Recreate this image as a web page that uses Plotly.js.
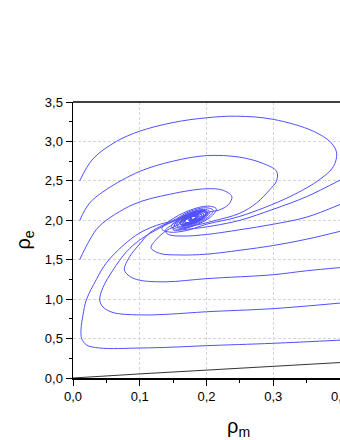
<!DOCTYPE html>
<html>
<head>
<meta charset="utf-8">
<script src="https://cdn.plot.ly/plotly-3.0.1.min.js"></script>
<style>html,body{margin:0;padding:0;background:#fff;}#chart{width:340px;height:440px;}</style>
</head>
<body>
<div id="chart"></div>
<script>
// Trajectories (rho_m, rho_e)
const trajA_x = [0.01,0.03,0.065,0.1,0.15,0.2,0.245,0.3,0.36,0.387,0.395,0.39,0.37,0.325,0.25,0.2,0.17,0.145,0.133,
  0.1451,0.1732,0.2019,0.2148,0.2059,0.182,0.1581,0.1476,0.1552,0.1747,0.1939,0.202,0.1957,0.1805,0.1661,0.1604,0.1653,0.1763,0.186,0.1892,0.1856,0.179,0.174,0.1732,0.1755,0.178];
const trajA_y = [2.5,2.78,3.0,3.13,3.24,3.3,3.32,3.28,3.13,2.98,2.85,2.68,2.52,2.3,2.05,1.95,1.87,1.85,1.89,
  1.994,2.121,2.18,2.144,2.04,1.933,1.885,1.916,2.002,2.088,2.127,2.1,2.032,1.966,1.938,1.959,2.009,2.056,2.073,2.057,2.025,1.999,1.992,2.003,2.016,2.02];

const trajB_x = [0.01,0.025,0.05,0.1,0.15,0.2,0.25,0.285,0.305,0.305,0.295,0.275,0.25,0.21,0.18,0.16,
  0.1555,0.1611,0.1756,0.1898,0.1958,0.1911,0.1798,0.1692,0.165,0.1686,0.1767,0.1839,0.1863,0.1836,0.1787,0.1751,0.1744,0.1765,0.178];
const trajB_y = [2.0,2.22,2.39,2.62,2.75,2.82,2.8,2.72,2.62,2.5,2.39,2.22,2.09,1.99,1.93,1.9,
  1.943,2.006,2.07,2.098,2.079,2.029,1.98,1.959,1.975,2.012,2.046,2.059,2.047,2.023,2.004,2.0,2.007,2.02,2.02];

const trajC_x = [0.01,0.025,0.04,0.09,0.145,0.2,0.225,0.238,0.233,0.219,
  0.2004,0.195,0.1805,0.1659,0.1595,0.1641,0.176,0.1877,0.1926,0.1888,0.1795,0.1707,0.1673,0.1703,0.177,0.1829,0.1848,0.1826,0.1786,0.1756,0.175,0.178];
const trajC_y = [1.5,1.75,1.93,2.2,2.33,2.4,2.38,2.3,2.2,2.13,
  2.095,2.032,1.967,1.937,1.956,2.009,2.061,2.084,2.069,2.027,1.987,1.97,1.983,2.013,2.041,2.052,2.042,2.022,2.007,2.003,2.009,2.02];

const trajR1_x = [0.4,0.35,0.3,0.25,0.21,0.175,0.15,
  0.1516,0.1582,0.1752,0.1919,0.1989,0.1934,0.1802,0.1676,0.1627,0.167,0.1765,0.1849,0.1877,0.1846,0.1788,0.1745,0.1738,0.1752,0.1777,0.178];
const trajR1_y = [2.51,2.3,2.14,2.0,1.93,1.89,1.88,
  1.929,2.004,2.079,2.112,2.09,2.031,1.973,1.949,1.967,2.011,2.051,2.066,2.052,2.024,2.001,1.996,2.005,2.017,2.026,2.02];

const trajR2_x = [0.4,0.35,0.3,0.25,0.2,0.165,0.143,0.138,0.148,
  0.1579,0.1751,0.1926,0.2004,0.195,0.1805,0.1659,0.1595,0.1641,0.176,0.1877,0.1926,0.1888,0.1795,0.1707,0.1673,0.1703,0.177,0.1829,0.1848,0.1826,0.1786,0.1756,0.175,0.178];
const trajR2_y = [2.2,2.04,1.95,1.88,1.82,1.8,1.82,1.87,1.94,
  2.004,2.081,2.117,2.095,2.032,1.967,1.937,1.956,2.009,2.061,2.084,2.069,2.027,1.987,1.97,1.983,2.013,2.041,2.052,2.042,2.022,2.007,2.003,2.009,2.02];

const trajR3_x = [0.4,0.35,0.3,0.25,0.2,0.16,0.13,0.117,0.125,0.14,
  0.1595,0.1641,0.176,0.1877,0.1926,0.1888,0.1795,0.1707,0.1673,0.1703,0.177,0.1829,0.1848,0.1826,0.1786,0.1756,0.175,0.178];
const trajR3_y = [1.86,1.76,1.68,1.62,1.57,1.56,1.58,1.65,1.76,1.87,
  1.956,2.009,2.061,2.084,2.069,2.027,1.987,1.97,1.983,2.013,2.041,2.052,2.042,2.022,2.007,2.003,2.009,2.02];

const trajR4_x = [0.4,0.35,0.3,0.2,0.14,0.1,0.085,0.077,0.085,0.1,0.115,0.135,
  0.1552,0.1747,0.1939,0.202,0.1957,0.1805,0.1661,0.1604,0.1653,0.1763,0.186,0.1892,0.1856,0.179,0.174,0.1732,0.1755,0.178];
const trajR4_y = [1.4,1.36,1.31,1.26,1.22,1.24,1.29,1.37,1.54,1.7,1.84,1.94,
  2.002,2.088,2.127,2.1,2.032,1.966,1.938,1.959,2.009,2.056,2.073,2.057,2.025,1.999,1.992,2.003,2.016,2.02];

const trajR5_x = [0.4,0.3,0.2,0.145,0.1,0.06,0.045,0.04,0.045,0.06,0.08,0.1,0.125,
  0.1537,0.1744,0.1957,0.2052,0.1986,0.181,0.1633,0.1555,0.1611,0.1756,0.1898,0.1958,0.1911,0.1798,0.1692,0.165,0.1686,0.1767,0.1839,0.1863,0.1836,0.1787,0.1751,0.1744,0.1765,0.178];
const trajR5_y = [0.95,0.88,0.84,0.81,0.8,0.83,0.9,0.99,1.15,1.37,1.6,1.75,1.88,
  2.001,2.094,2.138,2.111,2.035,1.956,1.92,1.943,2.006,2.07,2.098,2.079,2.029,1.98,1.959,1.975,2.012,2.046,2.059,2.047,2.023,2.004,2.0,2.007,2.02,2.02];

const trajR6_x = [0.4,0.3,0.2,0.145,0.1,0.04,0.02,0.013,0.012,0.015,0.02,0.035,0.05,0.075,0.1,0.125,
  0.1494,0.1738,0.1988,0.21,0.2022,0.1815,0.1607,0.1516,0.1582,0.1752,0.1919,0.1989,0.1934,0.1802,0.1676,0.1627,0.167,0.1765,0.1849,0.1877,0.1846,0.1788,0.1745,0.1738,0.1752,0.1777,0.178];
const trajR6_y = [0.48,0.44,0.41,0.39,0.38,0.38,0.42,0.5,0.61,0.8,0.99,1.25,1.46,1.68,1.84,1.935,
  1.997,2.108,2.159,2.128,2.037,1.945,1.902,1.929,2.004,2.079,2.112,2.09,2.031,1.973,1.949,1.967,2.011,2.051,2.066,2.052,2.024,2.001,1.996,2.005,2.017,2.026,2.02];

const lineK_x = [0,0.05,0.1,0.2,0.3,0.4];
const lineK_y = [0,0.028,0.052,0.1,0.148,0.196];

const blueTrajs = [
  [trajA_x, trajA_y], [trajB_x, trajB_y], [trajC_x, trajC_y],
  [trajR1_x, trajR1_y], [trajR2_x, trajR2_y], [trajR3_x, trajR3_y],
  [trajR4_x, trajR4_y], [trajR5_x, trajR5_y], [trajR6_x, trajR6_y]
];

const traces = blueTrajs.map(([x, y]) => ({
  x: x, y: y, type: 'scatter', mode: 'lines',
  line: {color: 'rgb(80,80,255)', width: 1, shape: 'spline', smoothing: 1},
  hoverinfo: 'skip', showlegend: false
}));
traces.push({
  x: lineK_x, y: lineK_y, type: 'scatter', mode: 'lines',
  line: {color: '#333333', width: 1}, hoverinfo: 'skip', showlegend: false
});

const tickFont = {family: 'Liberation Sans, Arial, sans-serif', size: 13, color: '#000'};

const layout = {
  width: 340, height: 440,
  margin: {l: 73, r: 0, t: 102, b: 62, pad: 0},
  paper_bgcolor: '#fff', plot_bgcolor: '#fff',
  separators: ', ',
  showlegend: false,
  xaxis: {
    range: [0, 0.4], dtick: 0.1, tick0: 0, tickformat: '.1f',
    showline: true, linecolor: '#000', linewidth: 1.5,
    ticks: 'outside', ticklen: 6, tickwidth: 1, tickcolor: '#000',
    minor: {dtick: 0.05, ticks: 'outside', ticklen: 3, tickcolor: '#000', showgrid: false},
    showgrid: true, gridcolor: '#d6d6d6', griddash: '3px,2px', gridwidth: 1,
    zeroline: false, tickfont: tickFont, fixedrange: true,
    ticklabeloverflow: 'allow'
  },
  yaxis: {
    range: [0, 3.5], dtick: 0.5, tick0: 0, tickformat: '.1f',
    showline: true, linecolor: '#000', linewidth: 1.5,
    ticks: 'outside', ticklen: 6, tickwidth: 1, tickcolor: '#000',
    minor: {dtick: 0.25, ticks: 'outside', ticklen: 3, tickcolor: '#000', showgrid: false},
    showgrid: true, gridcolor: '#d6d6d6', griddash: '3px,2px', gridwidth: 1,
    zeroline: false, tickfont: tickFont, fixedrange: true,
    ticklabeloverflow: 'allow'
  },
  shapes: [
    {type: 'line', xref: 'paper', yref: 'paper', x0: 0, x1: 1, y0: 1, y1: 1,
     line: {color: '#000', width: 1.5}}
  ],
  annotations: [
    {text: 'ρ<sub>m</sub>', xref: 'paper', yref: 'paper', x: 0.62, y: -0.18,
     xanchor: 'center', yanchor: 'middle', showarrow: false,
     font: {family: 'Liberation Sans, Arial, sans-serif', size: 20, color: '#000'}},
    {text: 'ρ<sub>e</sub>', xref: 'paper', yref: 'paper', x: -0.185, y: 0.5,
     xanchor: 'center', yanchor: 'middle', showarrow: false, textangle: -90,
     font: {family: 'Liberation Sans, Arial, sans-serif', size: 20, color: '#000'}}
  ]
};

Plotly.newPlot('chart', traces, layout, {staticPlot: true, displayModeBar: false});
</script>
</body>
</html>
